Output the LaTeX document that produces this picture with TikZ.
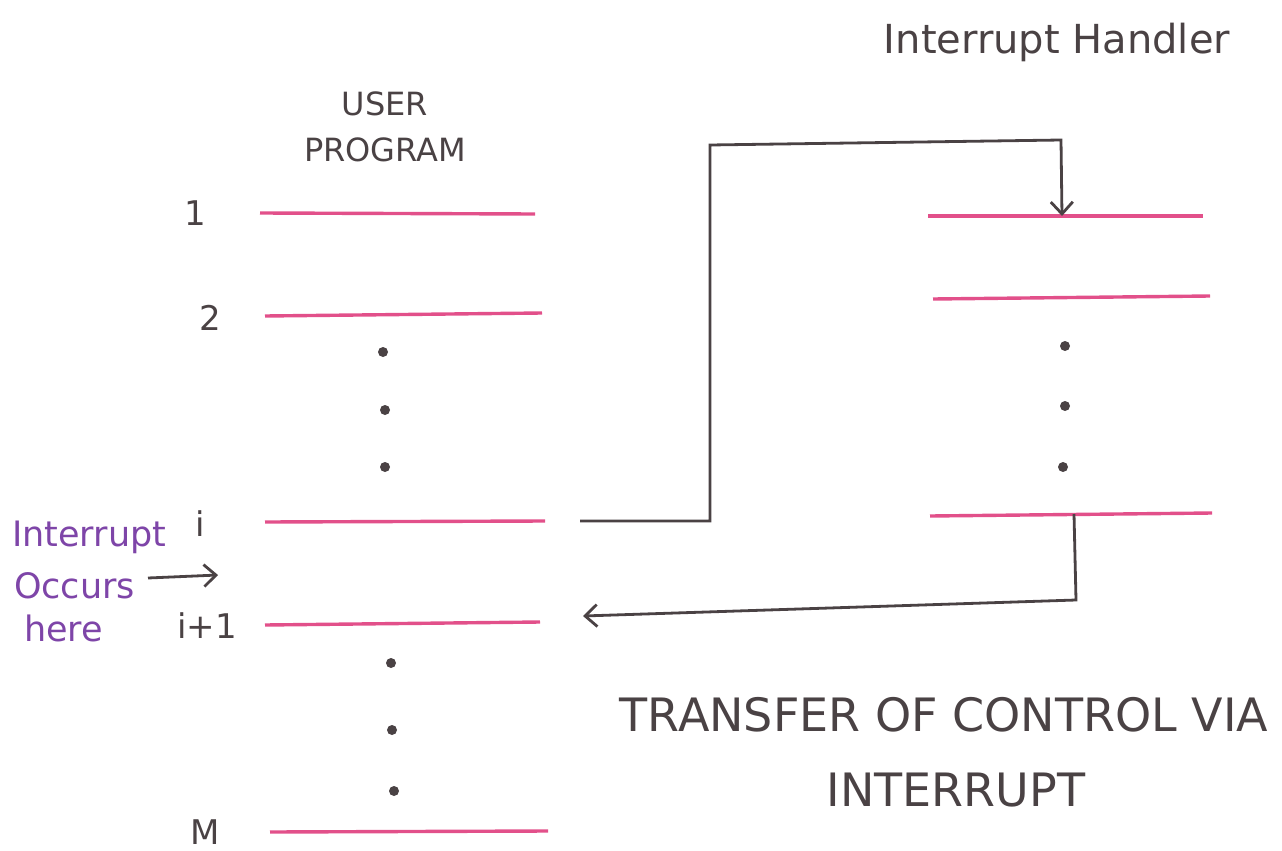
\documentclass[tikz,border=0pt]{standalone}
\usepackage{fontspec}
\setmainfont{DejaVu Sans}
\usetikzlibrary{arrows.meta}
\definecolor{penpink}{HTML}{E2508A}
\definecolor{pengray}{HTML}{4A4244}
\definecolor{penpurple}{HTML}{7E45A8}
\tikzset{
  instr/.style={penpink, line width=3.4pt},
  flow/.style={pengray, line width=2.8pt},
  dot/.style={circle, fill=pengray, inner sep=0pt, minimum size=10pt},
  lbl/.style={pengray, font=\fontsize{34}{36}\selectfont, inner sep=0pt},
  note/.style={penpurple, font=\fontsize{35}{38}\selectfont, inner sep=0pt, anchor=west},
  title/.style={pengray, font=\fontsize{46}{52}\selectfont, inner sep=0pt},
  tip/.style={-{Straight Barb[length=12pt, width=22pt, line width=2.8pt]}}
}
\begin{document}
\begin{tikzpicture}[x=1pt, y=-1pt]
\useasboundingbox (0,0) rectangle (1282,851);

% headings
\node[lbl, align=center, font=\fontsize{32}{46}\selectfont] (uphead) at (385,127) {USER\\PROGRAM};
\node[lbl, font=\fontsize{40}{44}\selectfont] (ihhead) at (1057,42) {Interrupt Handler};

% user program instructions
\coordinate (u1a) at (260,213); \coordinate (u1b) at (535,214);
\coordinate (u2a) at (265,316); \coordinate (u2b) at (542,313);
\coordinate (uia) at (265,522); \coordinate (uib) at (545,521);
\coordinate (uja) at (265,625); \coordinate (ujb) at (540,622);
\coordinate (uma) at (270,832); \coordinate (umb) at (548,831);
\draw[instr] (u1a) -- (u1b);
\draw[instr] (u2a) -- (u2b);
\draw[instr] (uia) -- (uib);
\draw[instr] (uja) -- (ujb);
\draw[instr] (uma) -- (umb);

\node[lbl] (n1) at (195,213) {1};
\node[lbl] (n2) at (210,318) {2};
\node[lbl] (ni) at (200,524) {i};
\node[lbl] (nj) at (207,626) {i+1};
\node[lbl] (nm) at (205,832) {M};

\node[dot] (d1) at (383,352) {};
\node[dot] (d2) at (385,410) {};
\node[dot] (d3) at (385,467) {};
\node[dot] (d4) at (391,663) {};
\node[dot] (d5) at (392,730) {};
\node[dot] (d6) at (394,791) {};

% interrupt handler instructions
\coordinate (h1a) at (928,216); \coordinate (h1b) at (1203,216);
\coordinate (h2a) at (933,299); \coordinate (h2b) at (1210,296);
\coordinate (hna) at (930,516); \coordinate (hnb) at (1212,513);
\draw[instr] (h1a) -- (h1b);
\draw[instr] (h2a) -- (h2b);
\draw[instr] (hna) -- (hnb);

\node[dot] (e1) at (1065,346) {};
\node[dot] (e2) at (1065,406) {};
\node[dot] (e3) at (1063,467) {};

% transfer to the handler
\coordinate (out) at (580,521);
\coordinate (in) at (1062,216);
\draw[flow, tip] (out) -- (710,521) -- (710,145) -- (1061,140) -- (in);

% return to the next instruction
\coordinate (ret) at (1074,514);
\coordinate (back) at (583,616);
\draw[flow, tip] (ret) -- (1076,600) -- (back);

% interrupt note
\node[note] (t1) at (12,537) {Interrupt};
\node[note] (t2) at (14,586) {Occurs};
\node[note] (t3) at (24,628) {here};
\coordinate (pa) at (148,578);
\coordinate (pb) at (218,575);
\draw[flow, tip] (pa) -- (pb);

% caption
\node[title] (cap1) at (944,715) {TRANSFER OF CONTROL VIA};
\node[title] (cap2) at (956,790) {INTERRUPT};
\end{tikzpicture}
\end{document}
